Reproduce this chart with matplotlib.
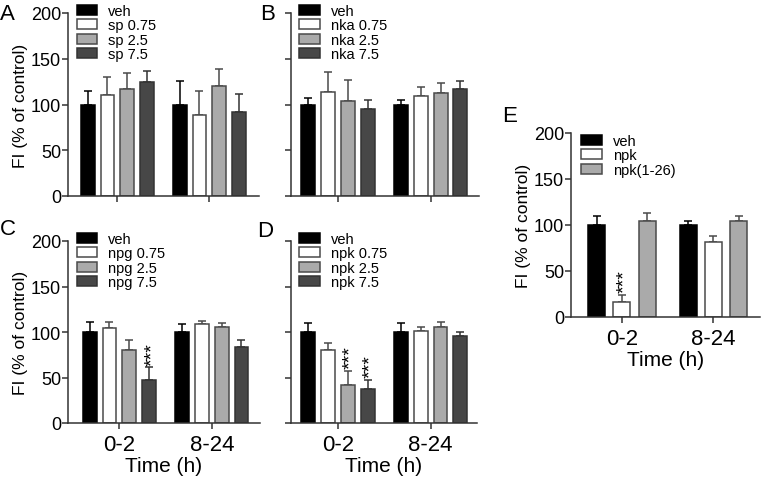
import numpy as np
import matplotlib.pyplot as plt

plt.rcParams['font.family'] = ['Liberation Sans', 'DejaVu Sans']

groups = ['0-2', '8-24']

# panel A
a_labels = ['veh', 'sp 0.75', 'sp 2.5', 'sp 7.5']
a_mean = [[100, 100], [110.6, 88], [116.8, 120.4], [124.8, 92]]
a_err = [[14.6, 25.5], [19, 27], [17.5, 18.3], [12, 20]]

# panel B
b_labels = ['veh', 'nka 0.75', 'nka 2.5', 'nka 7.5']
b_mean = [[100, 100], [113.5, 109.1], [104, 112.8], [95.3, 117.1]]
b_err = [[7.3, 4.7], [21.9, 10.2], [22.6, 10.5], [9.8, 8.4]]

# panel C
c_labels = ['veh', 'npg 0.75', 'npg 2.5', 'npg 7.5']
c_mean = [[100, 100], [104, 109], [80.2, 105], [47.5, 83.1]]
c_err = [[11.2, 8.6], [6.8, 2.9], [10.8, 4.7], [14, 8.6]]
c_sig = [(3, 0)]

# panel D
d_labels = ['veh', 'npk 0.75', 'npk 2.5', 'npk 7.5']
d_mean = [[100, 100], [80.2, 101], [42, 105], [37, 95.7]]
d_err = [[10, 10], [7.6, 4.8], [15.5, 6.2], [10.8, 4.7]]
d_sig = [(2, 0), (3, 0)]

# panel E
e_labels = ['veh', 'npk', 'npk(1-26)']
e_mean = [[100, 100], [16.6, 82], [104, 104]]
e_err = [[10, 4], [7.6, 5.7], [8.6, 6]]
e_sig = [(1, 0)]

fills = ['black', 'white', '#aaaaaa', '#474747']
edges = ['black', '#4a4a4a', '#4a4a4a', '#333333']

W, H = 762, 481
fig = plt.figure(figsize=(W / 100, H / 100), dpi=100)


def px_axes(left, right, top, bottom):
    return fig.add_axes([left / W, 1 - bottom / H, (right - left) / W, (bottom - top) / H])


def panel(ax, labels, means, errs, sig, xlim, ylab, xlab, leg_anchor, sp, wd, fills):
    n = len(labels)
    x = np.arange(len(groups))
    offs = (np.arange(n) - (n - 1) / 2) * sp
    for i in range(n):
        ax.bar(x + offs[i], means[i], wd, color=fills[i], edgecolor=edges[i],
               linewidth=1.1, label=labels[i], zorder=2)
        ax.errorbar(x + offs[i], means[i], yerr=[[0, 0], errs[i]], fmt='none',
                    ecolor=edges[i], elinewidth=1.1, capsize=3, capthick=1.1, zorder=1)
    for (i, g) in sig:
        ax.text(x[g] + offs[i] + 0.035, means[i][g] + errs[i][g] + 2.5, '***', rotation=90,
                ha='center', va='bottom', fontsize=14)
    ax.set_ylim(0, 200)
    ax.set_xlim(*xlim)
    ax.set_yticks([0, 50, 100, 150, 200])
    ax.set_xticks(x)
    for s in ['top', 'right']:
        ax.spines[s].set_visible(False)
    for s in ['left', 'bottom']:
        ax.spines[s].set_color('#333333')
        ax.spines[s].set_linewidth(1.1)
    ax.tick_params(axis='y', length=4, width=1.1, color='#333333', pad=1, labelsize=13)
    ax.tick_params(axis='x', length=4, width=1.1, color='#333333', pad=4, labelsize=16)
    if ylab:
        ax.set_ylabel('FI (% of control)', fontsize=12.5, labelpad=2)
    else:
        ax.set_yticklabels([])
    if xlab:
        ax.set_xticklabels(groups)
        ax.set_xlabel('Time (h)', fontsize=15, labelpad=1)
    else:
        ax.set_xticklabels([])
    ax.legend(loc='upper left', bbox_to_anchor=leg_anchor, frameon=False, fontsize=10.5,
              handlelength=1.41, handleheight=0.69, labelspacing=0.03, handletextpad=0.75,
              borderpad=0, borderaxespad=0)


axA = px_axes(68, 259, 14, 197)
panel(axA, a_labels, a_mean, a_err, [], (-0.535, 1.54), True, False, (0.045, 1.05), 0.213, 0.15, fills)
axB = px_axes(291, 479, 14, 197)
panel(axB, b_labels, b_mean, b_err, [], (-0.507, 1.52), False, False, (0.045, 1.05), 0.213, 0.15, fills)
axC = px_axes(68, 260, 242, 424)
panel(axC, c_labels, c_mean, c_err, c_sig, (-0.555, 1.52), True, True, (0.045, 1.05), 0.213, 0.15, fills)
axD = px_axes(291, 477, 242, 424)
panel(axD, d_labels, d_mean, d_err, d_sig, (-0.507, 1.5), False, True, (0.045, 1.05), 0.213, 0.15, fills)
axE = px_axes(571, 760, 134, 318)
panel(axE, e_labels, e_mean, e_err, e_sig, (-0.556, 1.51), True, True, (0.055, 0.995), 0.276, 0.185,
      ['black', 'white', '#aaaaaa'])

for lab, px, py in [('A', 0, 15), ('B', 260, 14), ('C', 0, 230), ('D', 257, 232), ('E', 502, 117)]:
    fig.text(px / W, 1 - py / H, lab, fontsize=16, ha='left', va='center')

fig.savefig('out.png', dpi=100)
